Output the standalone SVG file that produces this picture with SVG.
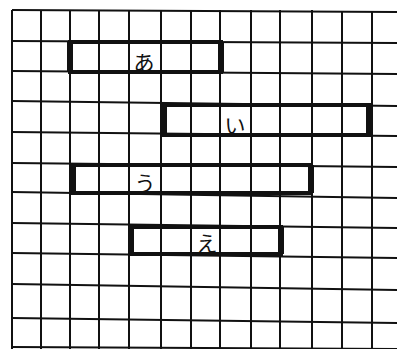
<svg xmlns="http://www.w3.org/2000/svg" width="397" height="349" viewBox="0 0 397 349">
<style>
.grid line{stroke:#111;stroke-width:2}
.bar rect{fill:none;stroke:#111;stroke-width:4}
.bar .side{stroke:#111;stroke-width:6}
.lbl{font-family:"Noto Sans CJK JP","Noto Sans",sans-serif;font-size:21px;fill:#111;text-anchor:middle;dominant-baseline:central}
</style>
<rect width="397" height="349" fill="#fff"/>
<g id="grid" class="grid">
<line x1="12" y1="10" x2="12" y2="349"/>
<line x1="41" y1="10" x2="41" y2="349"/>
<line x1="70" y1="10" x2="70" y2="349"/>
<line x1="99" y1="10" x2="99" y2="349"/>
<line x1="129" y1="10" x2="129" y2="349"/>
<line x1="161" y1="10" x2="161" y2="349"/>
<line x1="191" y1="10" x2="191" y2="349"/>
<line x1="220" y1="10" x2="220" y2="349"/>
<line x1="251" y1="10" x2="251" y2="349"/>
<line x1="280" y1="10" x2="280" y2="349"/>
<line x1="312" y1="10" x2="312" y2="349"/>
<line x1="342" y1="11" x2="342" y2="349"/>
<line x1="372" y1="11" x2="372" y2="349"/>
<line x1="12" y1="10" x2="397" y2="12"/>
<line x1="12" y1="41" x2="397" y2="43"/>
<line x1="12" y1="71" x2="397" y2="74"/>
<line x1="12" y1="101" x2="397" y2="106"/>
<line x1="12" y1="132" x2="397" y2="136"/>
<line x1="12" y1="163" x2="397" y2="167"/>
<line x1="12" y1="192" x2="397" y2="198"/>
<line x1="12" y1="223" x2="397" y2="228"/>
<line x1="12" y1="253" x2="397" y2="258"/>
<line x1="12" y1="284" x2="397" y2="290"/>
<line x1="12" y1="318" x2="397" y2="323"/>
<line x1="12" y1="347" x2="397" y2="349"/>
</g>
<g id="connectors"></g>
<g id="node-a" class="bar">
<rect x="70" y="42" width="151" height="30"/>
<line class="side" x1="70" y1="42" x2="70" y2="72"/>
<line class="side" x1="221" y1="42" x2="221" y2="72"/>
<text class="lbl" x="144" y="61">あ</text>
</g>
<g id="node-i" class="bar">
<rect x="164" y="105" width="205" height="30"/>
<line class="side" x1="164" y1="105" x2="164" y2="135"/>
<line class="side" x1="369" y1="105" x2="369" y2="135"/>
<text class="lbl" x="235" y="124">い</text>
</g>
<g id="node-u" class="bar">
<rect x="73" y="165" width="238" height="28"/>
<line class="side" x1="73" y1="165" x2="73" y2="193"/>
<line class="side" x1="311" y1="165" x2="311" y2="193"/>
<text class="lbl" x="145" y="182">う</text>
</g>
<g id="node-e" class="bar">
<rect x="131" y="227" width="150" height="27"/>
<line class="side" x1="131" y1="227" x2="131" y2="254"/>
<line class="side" x1="281" y1="227" x2="281" y2="254"/>
<text class="lbl" x="207" y="242">え</text>
</g>
</svg>
